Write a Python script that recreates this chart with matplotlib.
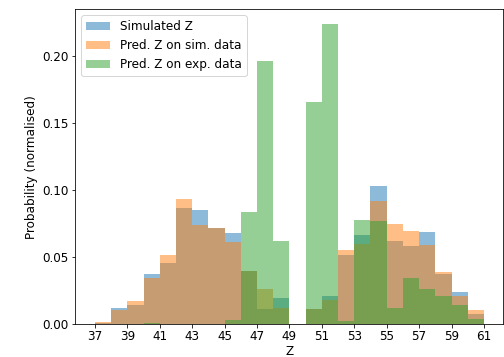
import matplotlib
matplotlib.use("Agg")
import numpy as np
import matplotlib.pyplot as plt

# bin edges (integer Z, width 1) and normalised heights
edges = list(range(37, 62))
sim_z = [0.0005, 0.0122, 0.0142, 0.0374, 0.0454, 0.0870, 0.0851, 0.0720,
         0.0676, 0.0397, 0.0110, 0.0195, 0.0, 0.0110, 0.0207, 0.0519,
         0.0661, 0.1033, 0.0619, 0.0584, 0.0686, 0.0372, 0.0237, 0.0075]
pred_sim = [0.0012, 0.0107, 0.0172, 0.0344, 0.0519, 0.0933, 0.0739, 0.0720,
            0.0616, 0.0397, 0.0262, 0.0118, 0.0, 0.0110, 0.0177, 0.0554,
            0.0599, 0.0916, 0.0749, 0.0696, 0.0589, 0.0389, 0.0212, 0.0107]
pred_exp = [0.0, 0.0, 0.0, 0.0010, 0.0, 0.0, 0.0, 0.0,
            0.0030, 0.0838, 0.1966, 0.0620, 0.0, 0.1657, 0.2238, 0.0020,
            0.0778, 0.0766, 0.0117, 0.0340, 0.0262, 0.0212, 0.0144, 0.0035]
labels = ["Simulated Z", "Pred. Z on sim. data", "Pred. Z on exp. data"]
xticks = list(range(37, 62, 2))

plt.rcParams['font.size'] = 12

fig = plt.figure(figsize=(7, 357 / 72), dpi=72)
ax = fig.add_axes([0.1498, 0.0924, 0.849, 0.8815])

left = edges[:-1]
for vals, col, lab in zip([sim_z, pred_sim, pred_exp], ["C0", "C1", "C2"], labels):
    ax.bar(left, vals, width=1, align="edge", color=col, alpha=0.5, label=lab)

ax.set_xticks(xticks)
ax.set_yticks([0.0, 0.05, 0.10, 0.15, 0.20])
ax.yaxis.set_major_formatter(matplotlib.ticker.FormatStrFormatter("%.2f"))
ax.tick_params(axis="x", pad=2)
ax.set_xlabel("Z", labelpad=2)
ax.set_ylabel("Probability (normalised)")
ax.legend(loc="upper left")

fig.savefig("out.png", dpi=72)
